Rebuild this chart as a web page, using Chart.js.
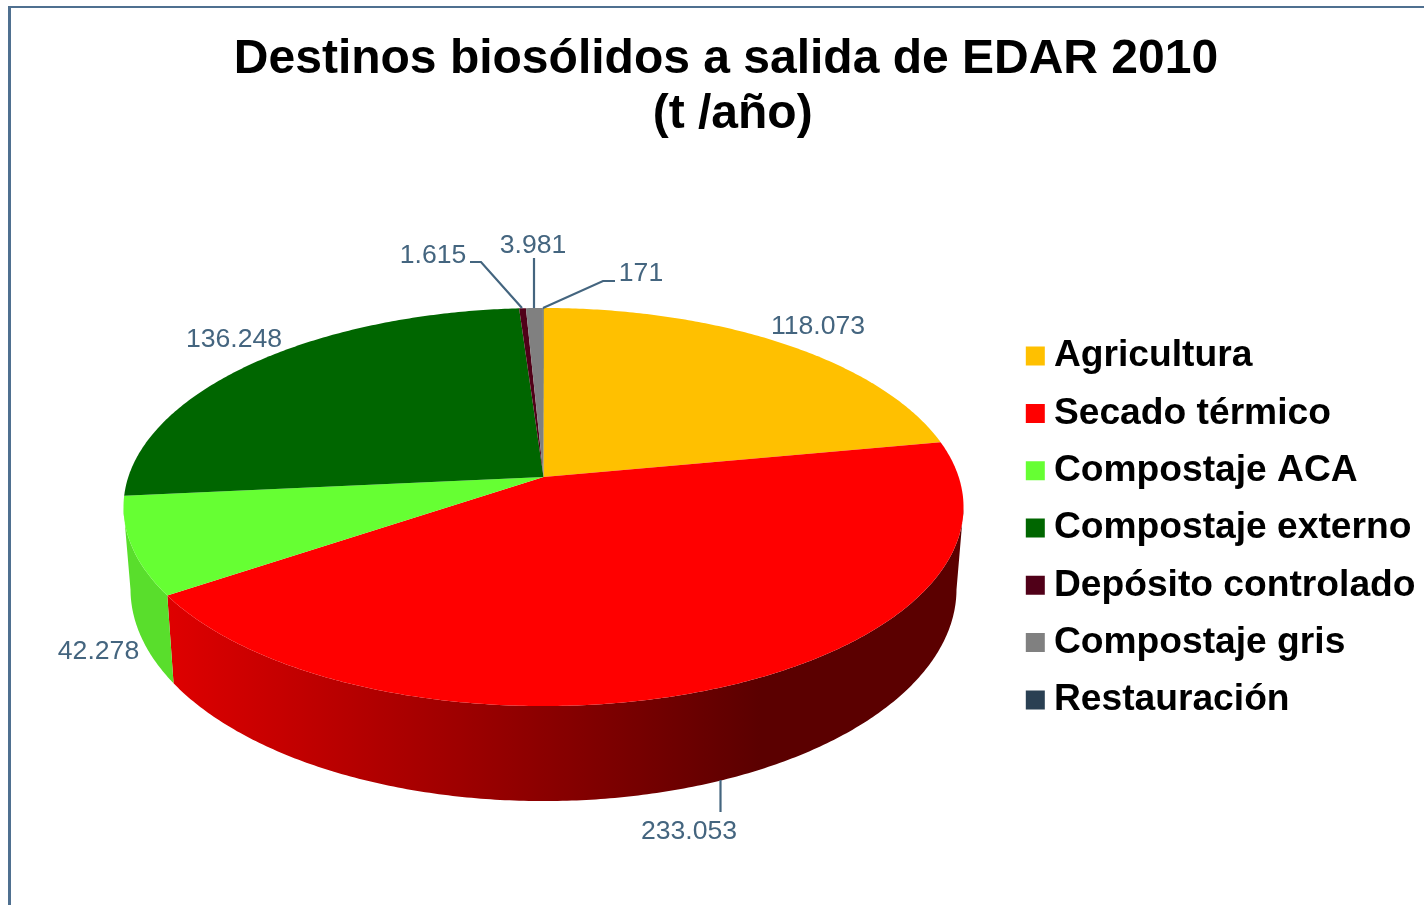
<!DOCTYPE html>
<html lang="es">
<head>
<meta charset="utf-8">
<title>Destinos biosólidos a salida de EDAR 2010</title>
<script src="https://cdn.jsdelivr.net/npm/chart.js@4"></script>
<style>
    html, body { margin: 0; padding: 0; background: #fff; overflow: hidden; }
    #frame { position: absolute; left: 8px; top: 6px; width: 1500px; height: 1000px; border-left: 3px solid #4f7090; border-top: 2px solid #4f7090; }
    #chart { position: absolute; left: 0; top: 0; }
</style>
</head>
<body>
<div id="frame"></div>
<canvas id="chart" width="1424" height="905"></canvas>
<script>
// Chart values
const categories = ['Agricultura', 'Secado térmico', 'Compostaje ACA', 'Compostaje externo', 'Depósito controlado', 'Compostaje gris', 'Restauración'];
const tonnes = [118073, 233053, 42278, 136248, 1615, 3981, 171];
const sliceColors = ['#ffc000', '#ff0000', '#66ff33', '#006600', '#500018', '#808080', '#2a4053'];
const titleLines = ['Destinos biosólidos a salida de EDAR 2010', ' (t /año)'];

// Where each value label sits, and the leader line going to the pie (if any)
const labelCentres = [[818, 326.5], [689, 831.5], [98.5, 651.5], [234, 339.5], [433, 255.5], [533, 245.5], [641, 273.5]];
const leaders = [null, [[720.5, 780], [720.5, 812]], null, null, [[470, 262], [481, 262], [522, 308]], [[534, 258], [534, 308]], [[615, 281], [603, 281], [543, 308]]];

const LABEL_COLOR = '#44657f';

// The original is a tilted pie seen in perspective: the slices meet above the middle of the ellipse
const topFace = { apexX: 543.5, apexY: 477, spread: 415.2, depth: 122.6, tilt: -0.1508, cx: 543.5, cy: 507, rx: 420, ry: 199 };
const bottomFace = { cx: 543.5, cy: 589, rx: 413, ry: 212 };

function topPoint(angle) {
    const x = Math.cos(angle), y = Math.sin(angle);
    const d = 1 + topFace.tilt * y;
    return [topFace.apexX + topFace.spread * x / d, (topFace.apexY + topFace.depth * y) / d];
}

function bottomPoint(angle) {
    const p = topPoint(angle);
    return [bottomFace.cx + (p[0] - topFace.cx) / topFace.rx * bottomFace.rx, bottomFace.cy + (p[1] - topFace.cy) / topFace.ry * bottomFace.ry];
}

function arcAngles(arc) {
    const steps = Math.max(2, Math.ceil((arc.endAngle - arc.startAngle) / 0.01));
    const out = [];
    for (let i = 0; i <= steps; i++) out.push(arc.startAngle + (arc.endAngle - arc.startAngle) * i / steps);
    return out;
}

function tracePolygon(ctx, points) {
    ctx.beginPath();
    points.forEach((p, i) => i ? ctx.lineTo(p[0], p[1]) : ctx.moveTo(p[0], p[1]));
    ctx.closePath();
}

// side of the pie gets darker from left to right
function wallGradient(ctx, color) {
    const r = parseInt(color.slice(1, 3), 16), g = parseInt(color.slice(3, 5), 16), b = parseInt(color.slice(5, 7), 16);
    const shade = f => `rgb(${Math.round(r * f)},${Math.round(g * f)},${Math.round(b * f)})`;
    const grad = ctx.createLinearGradient(170, 0, 760, 0);
    grad.addColorStop(0, shade(0.87));
    grad.addColorStop(1, shade(0.355));
    return grad;
}

const perspectivePie = {
    id: 'perspectivePie',
    afterLayout(chart) {
        // legend sits lower and a bit further right than the library would put it
        chart.legend.top += 75.5;
        chart.legend.bottom += 75.5;
        chart.legend.left += 1.5;
        chart.legend.right += 1.5;
    },
    beforeDatasetsDraw(chart) {
        const ctx = chart.ctx;
        const arcs = chart.getDatasetMeta(0).data;
        ctx.save();
        arcs.forEach(arc => {
            // only the front half of the rim is ever visible
            const angles = arcAngles(arc).filter(a => topPoint(a)[1] >= topFace.cy);
            if (angles.length < 2) return;
            tracePolygon(ctx, angles.map(topPoint).concat(angles.slice().reverse().map(bottomPoint)));
            ctx.fillStyle = wallGradient(ctx, arc.options.backgroundColor);
            ctx.fill();
        });
        arcs.forEach(arc => {
            tracePolygon(ctx, [[topFace.apexX, topFace.apexY]].concat(arcAngles(arc).map(topPoint)));
            ctx.fillStyle = arc.options.backgroundColor;
            ctx.fill();
        });
        ctx.restore();
        return false;
    },
    afterDraw(chart) {
        const ctx = chart.ctx;
        ctx.save();
        ctx.strokeStyle = LABEL_COLOR;
        ctx.lineWidth = 2.2;
        leaders.forEach(line => {
            if (!line) return;
            ctx.beginPath();
            line.forEach((p, i) => i ? ctx.lineTo(p[0], p[1]) : ctx.moveTo(p[0], p[1]));
            ctx.stroke();
        });
        ctx.fillStyle = LABEL_COLOR;
        ctx.font = '26.6px "Liberation Sans"';
        ctx.textAlign = 'center';
        ctx.textBaseline = 'middle';
        tonnes.forEach((v, i) => {
            const text = String(v).replace(/\B(?=(\d{3})+$)/g, '.');
            ctx.fillText(text, labelCentres[i][0], labelCentres[i][1]);
        });
        ctx.restore();
    }
};

new Chart(document.getElementById('chart'), {
    type: 'pie',
    data: {
        labels: categories,
        datasets: [{ data: tonnes, backgroundColor: sliceColors, borderWidth: 0 }]
    },
    options: {
        responsive: false,
        animation: false,
        layout: { padding: { left: 28, top: 0, right: 0, bottom: 0 } },
        plugins: {
            tooltip: { enabled: false },
            title: {
                display: true,
                text: titleLines,
                color: '#000',
                font: { family: '"Liberation Sans"', size: 48, weight: 'bold', lineHeight: 1.146 },
                padding: { top: 32, bottom: 0 }
            },
            legend: {
                position: 'right',
                labels: {
                    usePointStyle: true,
                    pointStyle: 'rect',
                    boxWidth: 0.1,
                    boxHeight: 19,
                    padding: 20.1,
                    color: '#000',
                    font: { family: '"Liberation Sans"', size: 37.2, weight: 'bold' }
                }
            }
        }
    },
    plugins: [perspectivePie]
});
</script>
</body>
</html>
